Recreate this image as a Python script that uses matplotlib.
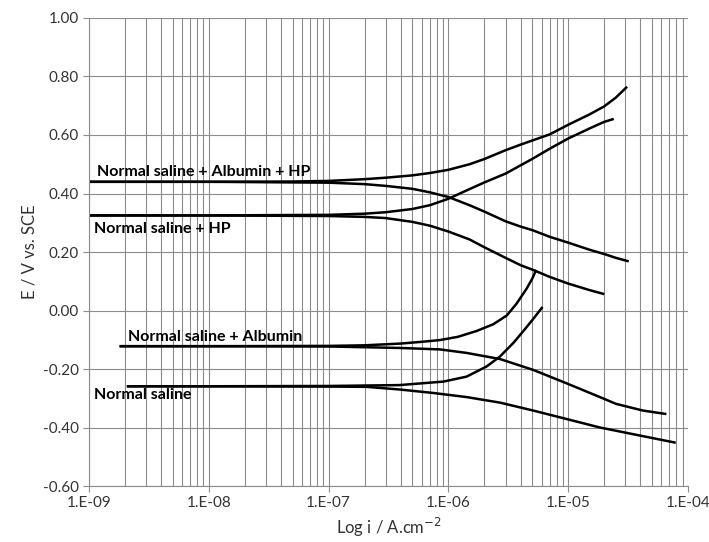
import numpy as np
import matplotlib
matplotlib.use('Agg')
import matplotlib.pyplot as plt
from matplotlib.ticker import FixedLocator, FuncFormatter, NullFormatter

plt.rcParams['font.family'] = ['Lato', 'DejaVu Sans']

# Normal saline + Albumin + HP
alb_hp_an_i = [1e-9, 1e-8, 5e-8, 1e-7, 2e-7, 3e-7, 5e-7, 7e-7, 1e-6, 1.5e-6, 2e-6, 3e-6, 4e-6, 5e-6, 7e-6, 1e-5, 1.5e-5, 2e-5, 2.5e-5, 3.1e-5]
alb_hp_an_e = [0.44, 0.44, 0.441, 0.443, 0.449, 0.454, 0.462, 0.470, 0.481, 0.500, 0.518, 0.548, 0.567, 0.581, 0.602, 0.635, 0.670, 0.698, 0.728, 0.765]
alb_hp_ca_i = [1e-9, 1e-8, 1e-7, 2e-7, 3e-7, 5e-7, 7e-7, 1e-6, 1.5e-6, 2e-6, 3e-6, 4e-6, 5e-6, 7e-6, 1e-5, 1.5e-5, 2e-5, 2.5e-5, 3.2e-5]
alb_hp_ca_e = [0.44, 0.44, 0.437, 0.432, 0.426, 0.416, 0.404, 0.388, 0.360, 0.338, 0.305, 0.287, 0.275, 0.252, 0.232, 0.208, 0.193, 0.180, 0.168]

# Normal saline + HP
hp_an_i = [1e-9, 1e-8, 1e-7, 2e-7, 3e-7, 5e-7, 7e-7, 1e-6, 1.5e-6, 2e-6, 3e-6, 5e-6, 7e-6, 1e-5, 1.5e-5, 2e-5, 2.4e-5]
hp_an_e = [0.325, 0.325, 0.327, 0.331, 0.336, 0.347, 0.360, 0.382, 0.415, 0.438, 0.468, 0.518, 0.553, 0.588, 0.622, 0.645, 0.655]
hp_ca_i = [1e-9, 1e-8, 1e-7, 2e-7, 3e-7, 5e-7, 7e-7, 1e-6, 1.5e-6, 2e-6, 3e-6, 4e-6, 5e-6, 7e-6, 1e-5, 1.5e-5, 2e-5]
hp_ca_e = [0.325, 0.325, 0.323, 0.320, 0.316, 0.303, 0.290, 0.270, 0.243, 0.216, 0.180, 0.155, 0.140, 0.115, 0.092, 0.070, 0.056]

# Normal saline + Albumin
alb_an_i = [1.8e-9, 1e-8, 1e-7, 2e-7, 4e-7, 6e-7, 8.5e-7, 1.2e-6, 1.72e-6, 2.37e-6, 3.07e-6, 3.7e-6, 4.5e-6, 5e-6, 5.4e-6]
alb_an_e = [-0.122, -0.122, -0.121, -0.119, -0.113, -0.107, -0.101, -0.090, -0.070, -0.047, -0.017, 0.023, 0.075, 0.108, 0.139]
alb_ca_i = [1.8e-9, 1e-8, 1e-7, 3.9e-7, 8.5e-7, 1.42e-6, 2.7e-6, 5.1e-6, 9.7e-6, 1.84e-5, 2.5e-5, 4.2e-5, 6.6e-5]
alb_ca_e = [-0.122, -0.122, -0.123, -0.128, -0.133, -0.145, -0.166, -0.203, -0.249, -0.296, -0.319, -0.342, -0.354]

# Normal saline
ns_an_i = [2.07e-9, 1e-8, 1e-7, 3.9e-7, 9.1e-7, 1.42e-6, 2.09e-6, 2.7e-6, 3.5e-6, 4.23e-6, 5.1e-6, 6.1e-6]
ns_an_e = [-0.259, -0.259, -0.258, -0.255, -0.243, -0.226, -0.191, -0.157, -0.110, -0.070, -0.029, 0.012]
ns_ca_i = [2.07e-9, 1e-8, 1e-7, 2.08e-7, 3.9e-7, 7.5e-7, 1.42e-6, 2.7e-6, 5.1e-6, 9.7e-6, 1.84e-5, 3.5e-5, 7.9e-5]
ns_ca_e = [-0.259, -0.259, -0.260, -0.261, -0.270, -0.282, -0.296, -0.315, -0.342, -0.371, -0.400, -0.423, -0.452]

labels = ['Normal saline + Albumin + HP', 'Normal saline + HP', 'Normal saline + Albumin', 'Normal saline']
label_pos = [(1.17e-9, 0.474), (1.1e-9, 0.279), (2.1e-9, -0.09), (1.1e-9, -0.289)]

x_major = [1e-9, 1e-8, 1e-7, 1e-6, 1e-5, 1e-4]
x_minor = [m * d for d in x_major[:-1] for m in range(2, 10)]
y_ticks = [-0.6, -0.4, -0.2, 0.0, 0.2, 0.4, 0.6, 0.8, 1.0]

fig = plt.figure(figsize=(7.09, 5.42), dpi=100)
ax = fig.add_axes([0.1255, 0.1033, 0.8449, 0.8635])

branches = [(alb_hp_an_i, alb_hp_an_e), (alb_hp_ca_i, alb_hp_ca_e),
            (hp_an_i, hp_an_e), (hp_ca_i, hp_ca_e),
            (alb_an_i, alb_an_e), (alb_ca_i, alb_ca_e),
            (ns_an_i, ns_an_e), (ns_ca_i, ns_ca_e)]
for xi, ye in branches:
    ax.plot(xi, ye, color='black', lw=1.8, solid_capstyle='butt', solid_joinstyle='round')

for txt, (x, y) in zip(labels, label_pos):
    ax.text(x, y, txt, fontsize=11.5, fontweight='bold', va='center', ha='left')

ax.set_xscale('log')
ax.set_xlim(1e-9, 1e-4)
ax.set_ylim(-0.6, 1.0)
ax.yaxis.set_major_locator(FixedLocator(y_ticks))
ax.yaxis.set_major_formatter(FuncFormatter(lambda v, p: '%.2f' % (0 if abs(v) < 1e-9 else v)))
ax.xaxis.set_major_locator(FixedLocator(x_major))
ax.xaxis.set_minor_locator(FixedLocator(x_minor))
ax.xaxis.set_minor_formatter(NullFormatter())
ax.xaxis.set_major_formatter(FuncFormatter(lambda v, p: '1.E-%02d' % round(-np.log10(v))))

ax.grid(True, which='major', color='#8c8c8c', lw=0.8)
ax.grid(True, which='minor', axis='x', color='#8c8c8c', lw=0.8)
ax.set_axisbelow(True)
for s in ['top', 'right']:
    ax.spines[s].set_visible(False)
for s in ['left', 'bottom']:
    ax.spines[s].set_color('#8c8c8c')
ax.tick_params(which='both', colors='#8c8c8c', labelcolor='#333333', labelsize=11)
ax.tick_params(which='minor', length=0)
ax.tick_params(which='major', length=4)

ax.set_xlabel('Log i / A.cm$^{-2}$', fontsize=12, color='#333333')
ax.set_ylabel('E / V vs. SCE', fontsize=12, color='#333333')

fig.savefig('out.png', dpi=100)
